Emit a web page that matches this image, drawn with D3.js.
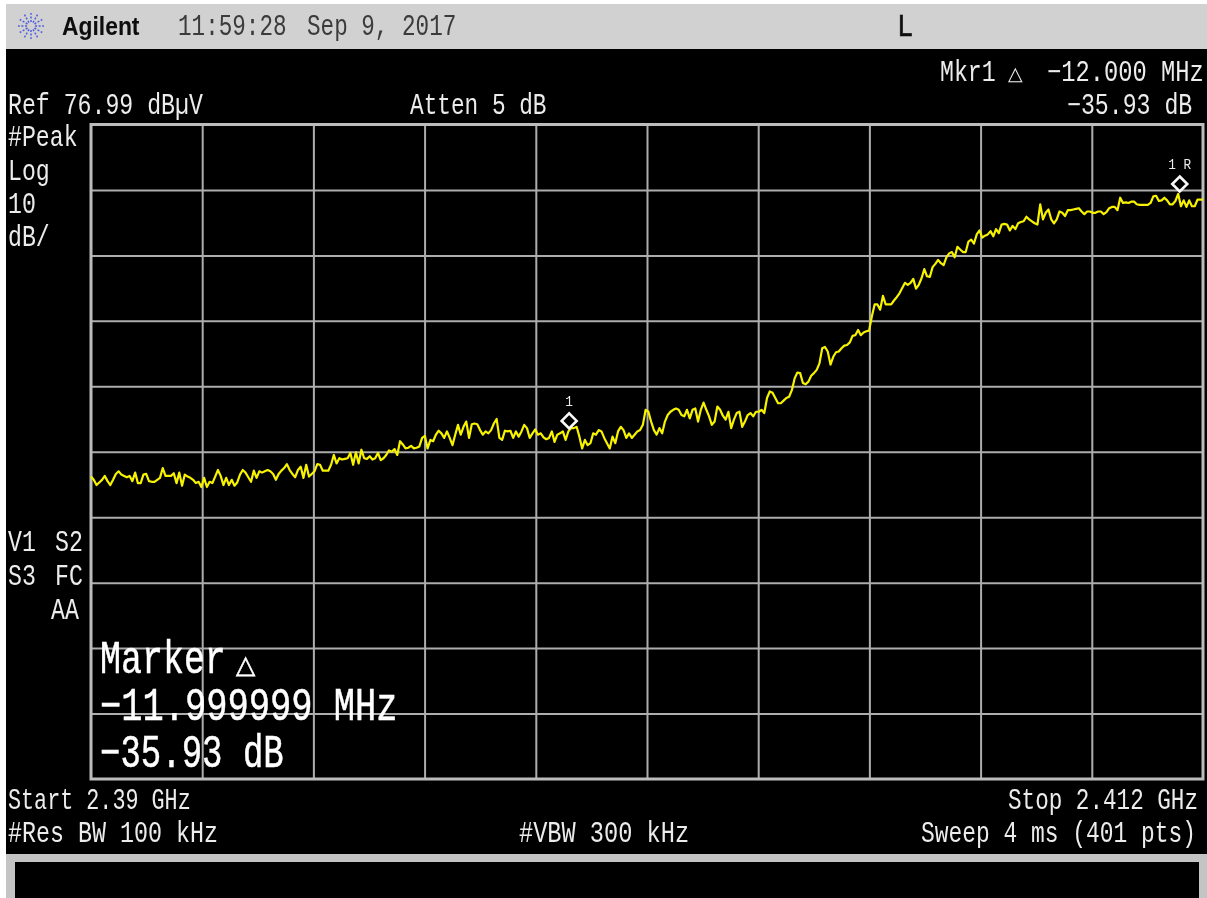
<!DOCTYPE html>
<html><head><meta charset="utf-8">
<script src="https://cdnjs.cloudflare.com/ajax/libs/d3/7.8.5/d3.min.js"></script>
<style>html,body{margin:0;padding:0;background:#fff}svg{display:block}</style></head>
<body><svg id="c" width="1207" height="898"></svg>
<script>
const startMHz = 2390, stopMHz = 2412, refLevel = 76.99, dbPerDiv = 10, divisions = 10;
const traceSegmentA = [23.2,22.7,21.9,22.3,22.7,23.3,22.5,21.9,22.7,23.6,24.0,23.5,23.3,23.1,23.3,22.5,23.8,22.2,22.2,23.5,23.6,22.5,22.4,22.4,22.7,23.0,24.5,23.3,23.3,23.3,23.7,22.2,23.8,21.8,23.5,23.2,23.0,22.7,22.2,22.4,21.6,23.0,21.6,22.4,22.2,23.2,24.2,23.3,21.9,23.0,21.9,22.7,21.8,22.3,23.5,24.2,23.8,23.1,22.4,24.1,23.0,24.0,23.8,24.0,24.2,24.0,23.6,22.7,23.6,24.1,24.5,25.1,24.2,23.6,23.1,24.2,24.7,23.0,25.0,23.2,23.6,24.0,25.1,25.0,24.1,24.1,24.1,25.0,26.5,25.2,26.0,25.8,25.9,26.0,26.8,25.0,26.9,25.2,27.3,26.0,25.9,26.3,25.8,26.0,26.8,25.7,26.0,26.5,27.2,27.0,27.4,26.5,28.6,28.1,27.5,27.6,27.9,27.5,27.6,27.8,29.1,29.4,27.5,28.8,28.6,29.6,30.2,29.8,29.1];
const traceSegmentB = [30.1,29.1,28.0,29.6,31.1,29.6,30.8,31.6,29.1,31.2,31.3,31.2,30.3,29.6,30.1,29.8,30.3,31.3,32.0,29.1,28.8,30.2,30.1,30.2,29.1,30.1,29.3,30.1,31.1,30.6,29.1,29.8,30.4,29.6,29.8,29.2,28.9,29.1,30.1,28.5,29.6,29.8,30.1,28.8,30.1,30.6,30.6,30.8,29.3,27.5,28.8,28.0,28.3,29.8,29.6,30.3,30.1,29.1,28.3,27.5,29.3,28.3,30.1,30.8,30.3,29.1,29.8,29.1,29.6,30.1,30.3,31.1,33.4,33.1,31.6,30.3,29.6,30.6,29.8,31.6,32.6,33.1,33.4,33.6,33.4,32.6,32.4,33.4,32.1,33.4,33.6,31.6,33.4,34.5,33.4,32.4,31.1,31.6,33.9,33.4,32.5,31.9,33.1,30.6,31.9,32.9,33.1,30.8,31.6,32.6,32.9,32.4,33.1,33.1,33.4,32.9,35.2,36.2,36.0,35.2,34.4];
const traceSegmentC = [34.4,34.8,35.2,35.4,36.4,38.2,39.1,39.0,37.5,37.3,37.7,38.6,39.0,39.5,40.5,42.8,43.0,42.3,40.3,41.5,42.2,42.3,42.8,43.2,43.3,43.7,44.7,44.8,45.6,44.8,45.2,45.4,45.5,47.7,49.5,49.5,48.7,50.8,49.5,49.5,49.5,50.1,50.6,51.2,52.0,52.8,52.5,52.8,53.4,51.9,52.5,53.5,54.9,53.8,53.7,55.2,55.7,56.3,55.8,55.5,56.7,57.3,57.5,56.7,58.3,57.9,57.5,57.5,59.1,59.4,58.8,60.2,60.8,59.7,60.0,60.2,60.7,59.9,61.0,60.4,61.7,61.8,61.7,60.8,61.5,61.0,61.9,62.1,62.2,62.9,62.5,62.2,61.9,61.7,64.8,62.5,63.5,64.0,62.5,61.9,62.5,63.7,63.5,63.0,63.9,63.9,64.0,64.1,64.2,63.7,63.3,63.7,63.7,63.5,63.5,63.7,63.7,63.3,63.6,64.2,64.4,64.4,63.9,65.8,65.0,65.1,65.0,65.2,65.2,64.8,64.7,64.7,64.7,64.7,65.0,66.0,66.1,65.3,65.4,65.8,65.4,64.8,64.8,65.3,66.4,64.5,65.4,64.4,65.4,64.5,64.5,65.5,65.5,65.5];
const traceValues = traceSegmentA.concat(traceSegmentB, traceSegmentC);
const markerNames = ["1", "1 R"];
const markerFreqs = [2399.46, 2411.54];
const markerLevels = [31.7, 67.9];

const svg = d3.select("#c");
const defs = svg.append("defs");
defs.append("filter").attr("id","soft").attr("x","-2%").attr("y","-2%").attr("width","104%").attr("height","104%")
  .append("feGaussianBlur").attr("stdDeviation",0.45);
const WHITE = "#ececec";
const x = d3.scaleLinear().domain([startMHz, stopMHz]).range([91, 1203]);
const y = d3.scaleLinear().domain([refLevel, refLevel - dbPerDiv * divisions]).range([124.5, 779]);

svg.append("rect").attr("x",6).attr("y",4).attr("width",1201).attr("height",45).attr("fill","#d1d1d1");
const root = svg.append("g").attr("filter","url(#soft)");
root.append("rect").attr("x",6).attr("y",49).attr("width",1201).attr("height",849).attr("fill","#000");
root.append("rect").attr("x",6).attr("y",854).attr("width",1201).attr("height",44).attr("fill","#c4c4c4");
root.append("rect").attr("x",15).attr("y",862).attr("width",1184).attr("height",36).attr("fill","#000");

const xTicks = d3.range(1, divisions).map(i => startMHz + i * (stopMHz - startMHz) / divisions);
const yTicks = d3.range(1, divisions).map(i => refLevel - i * dbPerDiv);
const gx = root.append("g").attr("transform","translate(0,779)")
  .call(d3.axisBottom(x).tickValues(xTicks).tickSize(-654).tickFormat(""));
const gy = root.append("g").attr("transform","translate(91,0)")
  .call(d3.axisLeft(y).tickValues(yTicks).tickSize(-1112).tickFormat(""));
[gx,gy].forEach(g => { g.select(".domain").remove(); g.selectAll("line").attr("stroke","#adadad").attr("stroke-width",2); });
root.append("rect").attr("x",91).attr("y",124.5).attr("width",1112).attr("height",654.5)
  .attr("fill","none").attr("stroke","#bcbcbc").attr("stroke-width",3);

function label(t, px, py, size, sx, opts) {
  opts = opts || {};
  return root.append("text").text(t)
    .attr("transform",`translate(${px},${py}) scale(${sx},1)`)
    .attr("font-family",opts.family || "'Liberation Mono'")
    .attr("font-size",size)
    .attr("font-weight",opts.weight || "normal")
    .attr("text-anchor",opts.anchor || "start")
    .attr("fill",opts.fill || WHITE)
    .attr("stroke",opts.stroke || "none")
    .attr("stroke-width",opts.sw || 0)
    .style("white-space","pre");
}

// trace
const n = traceValues.length;
const line = d3.line().x((d,i) => x(startMHz + i * (stopMHz - startMHz) / (n - 1))).y(d => y(d));
root.append("path").datum(traceValues).attr("d",line).attr("fill","none")
  .attr("stroke","#f6f200").attr("stroke-width",2.2).attr("stroke-linejoin","round");

// markers
markerFreqs.forEach((f,i) => {
  const mx = x(f), my = y(markerLevels[i]);
  root.append("path").attr("d",`M${mx},${my-7.5}L${mx+7.5},${my}L${mx},${my+7.5}L${mx-7.5},${my}Z`)
    .attr("fill","none").attr("stroke","#fafafa").attr("stroke-width",2.6);
  label(markerNames[i], mx, my-15, 15, 0.85, {anchor:"middle"});
});

// header
const cx = 31, cy = 26;
d3.range(12).forEach(i => {
  const a = i * Math.PI / 6;
  svg.append("line").attr("x1",cx+4*Math.cos(a)).attr("y1",cy+4*Math.sin(a))
    .attr("x2",cx+13*Math.cos(a)).attr("y2",cy+13*Math.sin(a))
    .attr("stroke","#4e5ce0").attr("stroke-width",1.5).attr("stroke-dasharray","2 1.6");
});
svg.append("g");
const hdr = (t,px,py,s,sx,o)=>label(t,px,py,s,sx,o);
hdr("Agilent",62,35,26,0.88,{family:"'Liberation Sans'",weight:"bold",fill:"#0a0a0a"});
hdr("11:59:28",178,35,29,0.78,{fill:"#3a3a3a"});
hdr("Sep 9, 2017",307,35,29,0.78,{fill:"#3a3a3a"});
hdr("L",897,36,32,0.85,{fill:"#111",stroke:"#111",sw:0.6});

// readouts
const S = 29, SX = 0.8;
label("Mkr1",940,81,S,SX);
label("\u25B3",1008,80,19,1);
label("\u221212.000 MHz",1047,81,S,0.82);
label("Ref 76.99 dB\u00B5V",8,114,S,SX);
label("Atten 5 dB",410,114,S,0.785);
label("\u221235.93 dB",1067,114,S,SX);
label("#Peak",8,146,S,SX);
label("Log",8,180,S,SX);
label("10",8,213,S,SX);
label("dB/",8,246,S,SX);
label("V1",8,551,S,SX);
label("S2",55,551,S,SX);
label("S3",8,585,S,SX);
label("FC",55,585,S,SX);
label("AA",51,619,S,SX);
label("Start 2.39 GHz",8,809,S,0.75);
label("#Res BW 100 kHz",8,842,S,0.805);
label("#VBW 300 kHz",519,842,S,0.815);
label("Stop 2.412 GHz",1008,809,S,0.78);
label("Sweep 4 ms (401 pts)",921,842,S,0.79);

// active marker block
label("Marker",100,673,46,0.76,{fill:"#fff",stroke:"#fff",sw:0.5});
label("\u25B3",236,673,25,1,{fill:"#fff",stroke:"#fff",sw:0.6});
label("\u221211.999999 MHz",100,720,46,0.77,{fill:"#fff",stroke:"#fff",sw:0.5});
label("\u221235.93 dB",100,767,46,0.74,{fill:"#fff",stroke:"#fff",sw:0.5});
</script></body></html>
